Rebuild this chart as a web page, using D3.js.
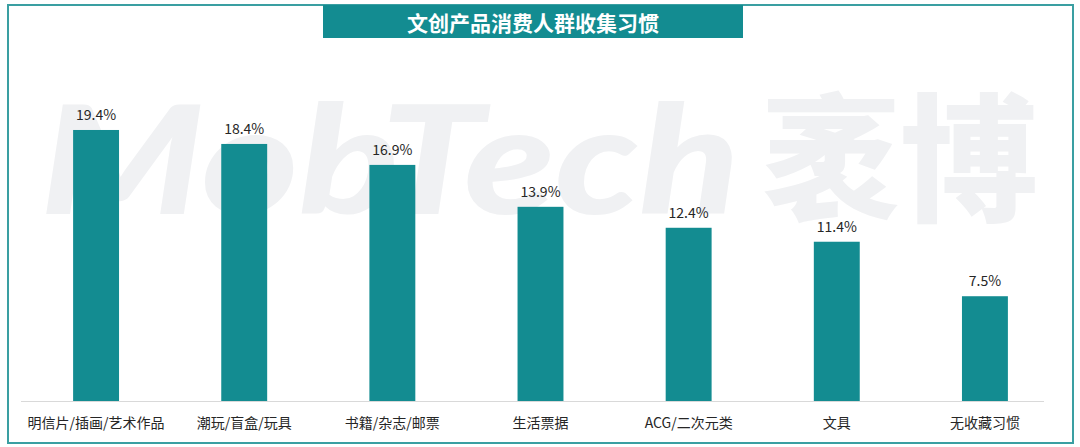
<!DOCTYPE html>
<html><head><meta charset="utf-8">
<script src="https://cdn.jsdelivr.net/npm/d3@7"></script>
<style>html,body{margin:0;padding:0;background:#fff;}svg{display:block;}</style>
</head><body>
<svg id="chart" width="1080" height="447"></svg>
<script>
const title = "文创产品消费人群收集习惯";
const categories = ["明信片/插画/艺术作品","潮玩/盲盒/玩具","书籍/杂志/邮票","生活票据","ACG/二次元类","文具","无收藏习惯"];
const values = [19.4, 18.4, 16.9, 13.9, 12.4, 11.4, 7.5];
const valueLabels = ["19.4%","18.4%","16.9%","13.9%","12.4%","11.4%","7.5%"];

const svg = d3.select("#chart");
const font = "'Noto Sans CJK SC','Microsoft YaHei',sans-serif";
const teal = "#138c91";

// watermark
const wm = svg.append("g").attr("fill","#f0f1f3").attr("font-family","Lato, 'Noto Sans', sans-serif");
wm.append("text").attr("x",40).attr("y",214).attr("font-size",150).attr("font-weight",900)
  .attr("font-style","italic").attr("textLength",700).attr("lengthAdjust","spacingAndGlyphs").text("MobTech");
wm.append("text").attr("x",762).attr("y",210).attr("font-size",138).attr("font-weight",900)
  .attr("font-family",font).text("袤博");

// frame
svg.append("rect").attr("x",8).attr("y",5).attr("width",1065).attr("height",438)
  .attr("fill","none").attr("stroke","#3a9fa2").attr("stroke-width",2);

// title
svg.append("rect").attr("x",323).attr("y",5).attr("width",420).attr("height",33).attr("fill",teal);
svg.append("text").attr("x",533).attr("y",22).attr("text-anchor","middle").attr("dominant-baseline","central")
  .attr("fill","#fff").attr("font-family",font).attr("font-weight",700).attr("font-size",21).text(title);

const x = d3.scaleBand().domain(categories).range([22,1059]).paddingInner(0.69).paddingOuter(0.345);
const y = d3.scaleLinear().domain([0,20]).range([401,121.6]);

svg.append("line").attr("x1",21).attr("x2",1044).attr("y1",401.5).attr("y2",401.5)
  .attr("stroke","#d9d9d9").attr("stroke-width",1);

svg.selectAll("rect.bar").data(values).join("rect").attr("class","bar")
  .attr("x",(d,i)=>x(categories[i])).attr("width",x.bandwidth())
  .attr("y",d=>y(d)).attr("height",d=>y(0)-y(d)).attr("fill",teal);

svg.selectAll("text.val").data(values).join("text").attr("class","val")
  .attr("x",(d,i)=>x(categories[i])+x.bandwidth()/2).attr("y",d=>y(d)-10)
  .attr("text-anchor","middle").attr("font-family",font).attr("font-size",14).attr("fill","#262626")
  .text((d,i)=>valueLabels[i]);

const xAxis = d3.axisBottom(x).tickSize(0).tickPadding(17);
const ga = svg.append("g").attr("transform","translate(0,401)").call(xAxis);
ga.select(".domain").remove();
ga.selectAll("text").attr("font-family",font).attr("font-size",14).attr("fill","#262626");
</script>
</body></html>
